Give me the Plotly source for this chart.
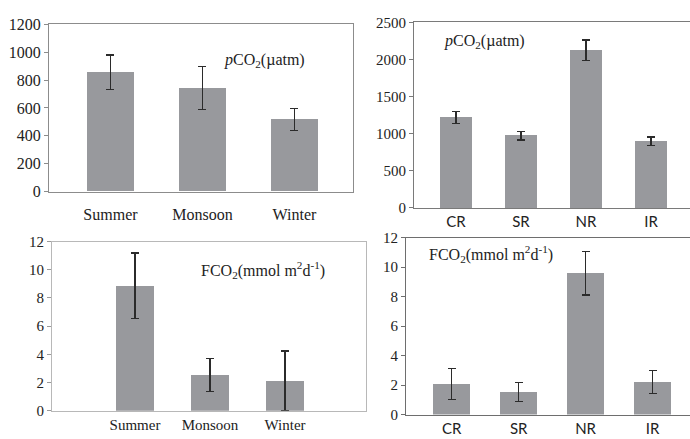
import plotly.graph_objects as go

# Seasonal pCO2 (µatm)
season_labels = ["Summer", "Monsoon", "Winter"]
season_pco2 = [856, 743, 516]
season_pco2_err = [125, 155, 78]

# Regional pCO2 (µatm)
region_labels = ["CR", "SR", "NR", "IR"]
region_pco2 = [1220, 974, 2125, 897]
region_pco2_err = [84, 60, 140, 60]

# Seasonal CO2 flux (mmol m-2 d-1)
season_fco2 = [8.88, 2.54, 2.13]
season_fco2_err = [2.32, 1.18, 2.1]

# Regional CO2 flux (mmol m-2 d-1)
region_fco2 = [2.07, 1.55, 9.6, 2.2]
region_fco2_err = [1.05, 0.64, 1.48, 0.79]

BAR = "#98999d"
ERR = "#2b2b2b"
SERIF = "Liberation Serif"
SANS = "Lato"

W, H = 690, 439


def px_x(p):
    return p / W


def px_y(p):
    return 1 - p / H


fig = go.Figure()

panels = [
    # values, errors, labels, axis suffix, bar width
    (season_pco2, season_pco2_err, season_labels, "", 0.51),
    (region_pco2, region_pco2_err, region_labels, "2", 0.5),
    (season_fco2, season_fco2_err, season_labels, "3", 0.507),
    (region_fco2, region_fco2_err, region_labels, "4", 0.55),
]

for vals, errs, labels, sfx, bw in panels:
    fig.add_trace(go.Bar(
        x=list(range(len(vals))), y=vals, width=bw,
        marker=dict(color=BAR, line=dict(width=0)),
        error_y=dict(type="data", array=errs, visible=True,
                     color=ERR, thickness=1.3, width=4),
        xaxis="x" + sfx, yaxis="y" + sfx, showlegend=False,
    ))

tick_serif16 = dict(family=SERIF, size=16, color="#222")
tick_serif15 = dict(family=SERIF, size=15, color="#222")

layout = dict(
    width=W, height=H, margin=dict(l=0, r=0, t=0, b=0),
    paper_bgcolor="white", plot_bgcolor="white", bargap=0,
    # top-left: seasonal pCO2
    xaxis=dict(domain=[px_x(49), px_x(353)], range=[-0.668, 2.636],
               tickvals=list(range(3)), ticktext=season_labels,
               tickfont=tick_serif16, showline=True, mirror=True,
               linecolor="#8c8c8c", linewidth=1, ticks="", showgrid=False,
               zeroline=False, anchor="y", ticklabelstandoff=8),
    yaxis=dict(domain=[px_y(191), px_y(17)], range=[0, 1200], dtick=200,
               tickfont=tick_serif16, showline=True, mirror=True,
               linecolor="#8c8c8c", linewidth=1, ticks="outside", ticklen=4,
               tickcolor="#8c8c8c", showgrid=False, zeroline=False,
               anchor="x"),
    # top-right: regional pCO2
    xaxis2=dict(domain=[px_x(414), 1], range=[-0.646, 3.6],
                tickvals=list(range(4)), ticktext=region_labels,
                tickfont=dict(family=SANS, size=15, color="#222"),
                showline=True, mirror=True, linecolor="#7a7a7a", linewidth=1,
                ticks="", showgrid=False, zeroline=False, anchor="y2"),
    yaxis2=dict(domain=[px_y(208), px_y(15)], range=[0, 2500], dtick=500,
                tickfont=tick_serif15, showline=True, linecolor="#7a7a7a",
                linewidth=1, ticks="outside", ticklen=4, tickcolor="#7a7a7a",
                showgrid=False, zeroline=False, anchor="x2"),
    # bottom-left: seasonal FCO2
    xaxis3=dict(domain=[px_x(52), px_x(366)], range=[-1.107, 3.08],
                tickvals=list(range(3)), ticktext=season_labels,
                tickfont=dict(family=SERIF, size=15, color="#222"),
                showline=True, mirror=True, linecolor="#b8b8b8", linewidth=1,
                ticks="", showgrid=False, zeroline=False, anchor="y3"),
    yaxis3=dict(domain=[px_y(419), px_y(243)], range=[0, 12], dtick=2,
                tickfont=tick_serif15, showline=True, mirror=True,
                linecolor="#b8b8b8", linewidth=1, ticks="outside", ticklen=4,
                tickcolor="#9a9a9a", showgrid=False, zeroline=False,
                anchor="x3"),
    # bottom-right: regional FCO2
    xaxis4=dict(domain=[px_x(406), 1], range=[-0.683, 3.56],
                tickvals=list(range(4)), ticktext=region_labels,
                tickfont=dict(family=SANS, size=15, color="#222"),
                showline=True, mirror=True, linecolor="#6e6e6e", linewidth=1,
                ticks="", showgrid=False, zeroline=False, anchor="y4"),
    yaxis4=dict(domain=[px_y(423), px_y(239)], range=[0, 12], dtick=2,
                tickfont=tick_serif15, showline=True, linecolor="#6e6e6e",
                linewidth=1, ticks="outside", ticklen=4, tickcolor="#6e6e6e",
                showgrid=False, zeroline=False, anchor="x4"),
)
fig.update_layout(**layout)

pco2_title = "<i>p</i>CO<sub>2</sub>(µatm)"
fco2_title = "FCO<sub>2</sub>(mmol m<sup>2</sup>d<sup>-1</sup>)"
titles = [
    (pco2_title, 222, 55),
    (pco2_title, 442, 35),
    (fco2_title, 199, 273),
    (fco2_title, 427, 256),
]
for text, lx, cy in titles:
    fig.add_annotation(text=text, xref="paper", yref="paper",
                       x=px_x(lx), y=px_y(cy), xanchor="left",
                       yanchor="middle", showarrow=False,
                       font=dict(family=SERIF, size=16, color="#222"))

fig.write_html("out.html")
